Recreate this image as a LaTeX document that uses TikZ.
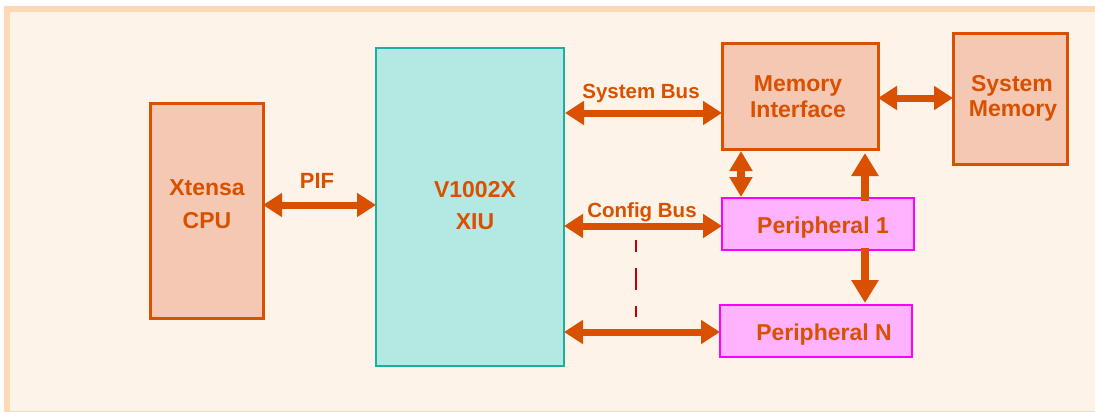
\documentclass[tikz,border=0pt]{standalone}
\usepackage{fontspec}
\setmainfont{Liberation Sans}
\usetikzlibrary{arrows.meta}
\definecolor{orng}{HTML}{D95000}
\definecolor{boxfill}{HTML}{F4C8B2}
\definecolor{xiufill}{HTML}{B3E9E2}
\definecolor{xiudraw}{HTML}{1AB0A0}
\definecolor{perfill}{HTML}{FFB3FF}
\definecolor{perdraw}{HTML}{FF00FF}
\definecolor{bgfill}{HTML}{FEF3E8}
\definecolor{framecol}{HTML}{FDD8B5}
\definecolor{dashcol}{HTML}{C00000}
\begin{document}
\begin{tikzpicture}[x=1pt,y=-1pt,
  blockbox/.style={draw=orng, fill=boxfill, line width=3pt, outer sep=0pt, inner sep=0pt},
  xiubox/.style={draw=xiudraw, fill=xiufill, line width=2pt, outer sep=0pt, inner sep=0pt},
  perbox/.style={draw=perdraw, fill=perfill, line width=2.5pt, outer sep=0pt, inner sep=0pt},
  bigtxt/.style={text=orng, font=\fontsize{23}{28}\selectfont\bfseries, anchor=base, inner sep=0pt},
  bustxt/.style={text=orng, font=\fontsize{20.5}{24}\selectfont\bfseries, anchor=base, inner sep=0pt},
  hbus/.style={draw=orng, line width=7pt, {Triangle[width=23pt,length=19pt]}-{Triangle[width=23pt,length=19pt]}},
  vsingle/.style={draw=orng, line width=8pt, -{Triangle[width=26pt,length=23pt]}},
  vdouble/.style={draw=orng, line width=8pt, {Triangle[width=22pt,length=20pt]}-{Triangle[width=22pt,length=20pt]}},
  dashline/.style={draw=dashcol, line width=2pt, dash pattern=on 12pt off 16pt on 22pt off 16pt on 11pt off 16pt}
]
\useasboundingbox (0,0) rectangle (1095,412);
\fill[white] (0,0) rectangle (1095,412);
\draw[draw=framecol, fill=bgfill, line width=6pt] (7,9) rectangle (1110,414);

% blocks
\node[blockbox, minimum width=113pt, minimum height=215pt] (cpu) at (206.5,210.5) {};
\node[xiubox, minimum width=188pt, minimum height=318pt] (xiu) at (470,207) {};
\node[blockbox, minimum width=156pt, minimum height=105pt] (mi) at (800,96.5) {};
\node[blockbox, minimum width=114pt, minimum height=130pt] (sm) at (1010,99) {};
\node[perbox, minimum width=192pt, minimum height=52pt] (p1) at (818,224) {};
\node[perbox, minimum width=192pt, minimum height=52pt] (pn) at (816,331) {};

% block texts
\node[bigtxt] (cpuA) at (207,195) {Xtensa};
\node[bigtxt] (cpuB) at (207,228) {CPU};
\node[bigtxt] (xiuA) at (475,197) {V1002X};
\node[bigtxt] (xiuB) at (475,229) {XIU};
\node[bigtxt] (miA) at (798,92) {Memory};
\node[bigtxt] (miB) at (798,117) {Interface};
\node[bigtxt] (smA) at (1012,92) {System};
\node[bigtxt] (smB) at (1013,116) {Memory};
\node[bigtxt] (p1t) at (823,233) {Peripheral 1};
\node[bigtxt] (pnt) at (824,340) {Peripheral N};

% bus labels
\node[bigtxt, font=\fontsize{22}{26}\selectfont\bfseries] (pift) at (317,188) {PIF};
\node[bustxt] (sbt) at (641,99) {System Bus};
\node[bustxt] (cbt) at (642,217) {Config Bus};

% level coordinates
\coordinate (yPIF) at (0,205);
\coordinate (ySB) at (0,113);
\coordinate (yCB) at (0,226);
\coordinate (yPN) at (0,332);
\coordinate (yMS) at (0,98);
\coordinate (xL) at (741,0);
\coordinate (xR) at (865,0);
\coordinate (dTop) at (636,240);
\coordinate (dBot) at (636,318);

% connectors
\draw[hbus] (cpu.east |- yPIF) -- (xiu.west |- yPIF);
\draw[hbus, shorten <=1pt] (xiu.east |- ySB) -- (mi.west |- ySB);
\draw[hbus] (xiu.east |- yCB) -- (p1.west |- yCB);
\draw[hbus] (xiu.east |- yPN) -- (pn.west |- yPN);
\draw[hbus] (mi.east |- yMS) -- (sm.west |- yMS);
\draw[vdouble, shorten <=2pt, shorten >=1pt] (mi.south -| xL) -- (p1.north -| xL);
\draw[vsingle, shorten <=-3pt, shorten >=4pt] (p1.north -| xR) -- (mi.south -| xR);
\draw[vsingle, shorten <=-2pt, shorten >=2pt] (p1.south -| xR) -- (pn.north -| xR);
\draw[dashline] (dTop) -- (dBot);
\end{tikzpicture}
\end{document}
